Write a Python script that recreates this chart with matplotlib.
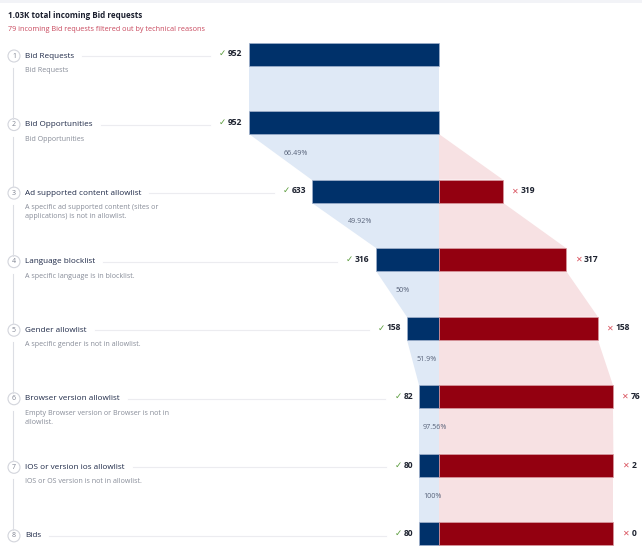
import matplotlib
matplotlib.use("Agg")
import matplotlib.pyplot as plt
import numpy as np
from matplotlib.offsetbox import TextArea, HPacker, AnnotationBbox
from matplotlib.patches import Circle

plt.rcParams['font.family'] = ['Open Sans', 'DejaVu Sans']

# data
total_label = "1.03K total incoming Bid requests"
filtered_label = "79 incoming Bid requests filtered out by technical reasons"
steps = ["Bid Requests", "Bid Opportunities", "Ad supported content allowlist",
         "Language blocklist", "Gender allowlist", "Browser version allowlist",
         "IOS or version ios allowlist", "Bids"]
descriptions = ["Bid Requests",
                "Bid Opportunities",
                "A specific ad supported content (sites or\napplications) is not in allowlist.",
                "A specific language is in blocklist.",
                "A specific gender is not in allowlist.",
                "Empty Browser version or Browser is not in\nallowlist.",
                "IOS or OS version is not in allowlist.",
                ""]
passed = [952, 952, 633, 316, 158, 82, 80, 80]
rejected = [None, None, 319, 317, 158, 76, 2, 0]

# colours
BLUE = '#00316a'
RED = '#930010'
LIGHT_BLUE = '#dfe9f6'
LIGHT_RED = '#f7e1e3'

W, H = 642, 546
PX = 0.2            # pixels per request
CX = 439            # funnel centre (pixels)
ROW0, ROWSTEP = 54, 68.55
BAR_H = 23 / ROWSTEP
MIN_W = 98          # smallest drawn blue bar

fig = plt.figure(figsize=(W / 100, H / 100), dpi=100)
fig.patch.set_facecolor('white')

# pixel layer for the text column
bg = fig.add_axes([0, 0, 1, 1])
bg.set_xlim(0, W)
bg.set_ylim(H, 0)
bg.axis('off')
bg.axhspan(0, 3, color='#f2f3f7', lw=0)

# funnel layer in request units
ax = fig.add_axes([0, 0, 1, 1], zorder=2)
ax.patch.set_alpha(0)
ax.set_xlim(-CX / PX, (W - CX) / PX)
ax.set_ylim((H - ROW0) / ROWSTEP, -ROW0 / ROWSTEP)
ax.axis('off')

n = len(steps)
rows = np.arange(n)
blue_w = np.maximum(np.array(passed, float), MIN_W)
red_cum = np.cumsum([0 if r is None else r for r in rejected]).astype(float)

# connectors
for i in range(n - 1):
    y0, y1 = i + BAR_H / 2, i + 1 - BAR_H / 2
    ax.fill([-blue_w[i], 0, 0, -blue_w[i + 1]], [y0, y0, y1, y1],
            color=LIGHT_BLUE, lw=0, zorder=1)
    if red_cum[i] > 0 or red_cum[i + 1] > 0:
        ax.fill([0, red_cum[i], red_cum[i + 1], 0], [y0, y0, y1, y1],
                color=LIGHT_RED, lw=0, zorder=1)
    pct = passed[i + 1] / passed[i] * 100
    if i > 0:
        ax.annotate(f"{pct:.2f}".rstrip('0').rstrip('.') + "%",
                    xy=(-(blue_w[i] + blue_w[i + 1]) / 2, i + 0.45),
                    xytext=(2.5, 0), textcoords='offset points',
                    ha='left', va='center', fontsize=5.1, color='#556077', zorder=3)

# bars
ax.barh(rows, -blue_w, left=0, height=BAR_H, color=BLUE,
        edgecolor='#9fb0cc', linewidth=0.5, zorder=2)
red_rows = [i for i in rows if rejected[i] is not None]
ax.barh(red_rows, red_cum[red_rows], left=0, height=BAR_H, color=RED,
        edgecolor='#d99aa0', linewidth=0.5, zorder=2)


def value_box(mark, mark_color, value, mark_size):
    return HPacker(children=[
        TextArea(mark, textprops=dict(color=mark_color, fontsize=mark_size,
                                      family='DejaVu Sans')),
        TextArea(str(value), textprops=dict(color='#1e2330', fontsize=6.1,
                                            fontweight='bold'))],
        sep=1.2, pad=0, align='baseline')


value_boxes = []
for i in rows:
    ab = AnnotationBbox(value_box('\u2713', '#5b9c3c', passed[i], 6.2),
                        (-blue_w[i], i), xybox=(-4.6, 0.2),
                        boxcoords='offset points', box_alignment=(1, 0.5),
                        frameon=False, pad=0, zorder=3)
    ax.add_artist(ab)
    value_boxes.append(ab)
    if rejected[i] is not None:
        ab2 = AnnotationBbox(value_box('\u2715', '#d9505c', rejected[i], 5.8),
                             (red_cum[i], i), xybox=(6.8, 0.2),
                             boxcoords='offset points', box_alignment=(0, 0.5),
                             frameon=False, pad=0, zorder=3)
        ax.add_artist(ab2)

# header
bg.text(8, 16, total_label, fontsize=5.8, fontweight='bold',
        color='#1b1f2e', va='center')
bg.text(8, 29.5, filtered_label, fontsize=5.2, color='#c8475c', va='center')

# step column
labels = []
for i in rows:
    y = ROW0 + ROWSTEP * i + 2
    bg.add_patch(Circle((14, y), 6, facecolor='white', edgecolor='#d3d5dc', lw=0.8))
    bg.text(14, y, str(i + 1), fontsize=5.0, color='#7d8290', ha='center', va='center')
    labels.append(bg.text(25, y, steps[i], fontsize=5.9, color='#1f2a48', va='center'))
    if descriptions[i]:
        bg.text(25, y + 11, descriptions[i], fontsize=5.1, color='#878c98',
                va='top', linespacing=1.45)
    if i < n - 1:
        bg.plot([13, 13], [y + 12, y + ROWSTEP - 6], color='#dcdee4', lw=0.8)

# guide lines from each step title to its value
fig.canvas.draw()
renderer = fig.canvas.get_renderer()
inv = bg.transData.inverted()
for i in rows:
    x_end = inv.transform(labels[i].get_window_extent(renderer).p1)[0]
    x_val = inv.transform(value_boxes[i].get_window_extent(renderer).p0)[0]
    y = ROW0 + ROWSTEP * i + 2
    bg.plot([x_end + 8, x_val - 9], [y, y], color='#ececf0', lw=0.8)

fig.savefig('out.png', dpi=100, facecolor='white')
